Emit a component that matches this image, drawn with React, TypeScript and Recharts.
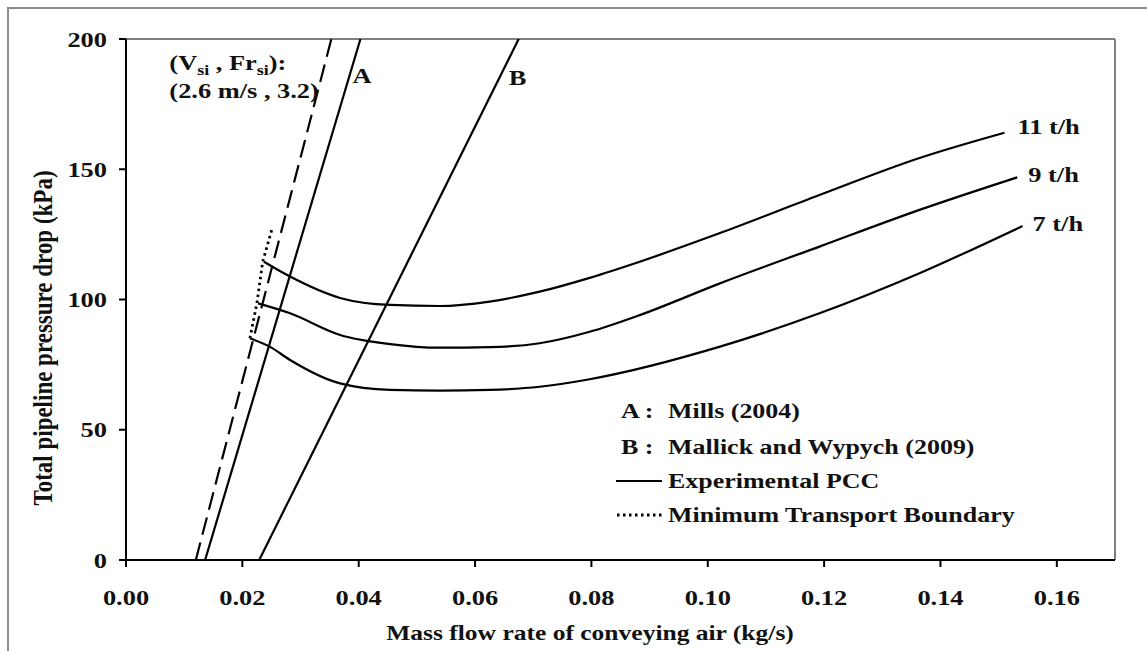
import { LineChart, Line, XAxis, YAxis, ReferenceLine, Legend, LabelList, Label } from 'recharts';

// air mass flow (kg/s) / total pressure drop (kPa)
const vsiX = [0.012, 0.0353];
const vsiP = [0, 200];

const millsX = [0.0136, 0.0403];
const millsP = [0, 200];

const mallickX = [0.0229, 0.0675];
const mallickP = [0, 200];

const boundaryX = [0.0213, 0.0225, 0.0235, 0.0251];
const boundaryP = [85.1, 98.6, 114.5, 127.1];

const pcc11X = [0.0237, 0.0282, 0.0368, 0.0454, 0.0539, 0.0625, 0.0711, 0.0797, 0.0883, 0.1021, 0.1192, 0.1364, 0.151];
const pcc11P = [114.5, 108.8, 100.6, 97.9, 97.5, 99.2, 103.0, 108.3, 114.5, 125.5, 140.1, 154.3, 164.0];

const pcc9X = [0.0227, 0.0282, 0.0368, 0.0454, 0.0539, 0.0625, 0.0711, 0.0797, 0.0883, 0.1021, 0.1192, 0.1364, 0.1532];
const pcc9P = [98.5, 94.7, 86.4, 82.9, 81.5, 81.7, 83.2, 87.6, 94.0, 106.2, 120.3, 134.4, 146.9];

const pcc7X = [0.0213, 0.0247, 0.0282, 0.0368, 0.0454, 0.0539, 0.0625, 0.0711, 0.0797, 0.1021, 0.1192, 0.1364, 0.1541];
const pcc7P = [85.1, 81.9, 76.8, 67.8, 65.3, 65.0, 65.3, 66.5, 69.4, 81.9, 94.7, 110.1, 128.2];

const xTicks = [0, 0.02, 0.04, 0.06, 0.08, 0.1, 0.12, 0.14, 0.16];
const yTicks = [0, 50, 100, 150, 200];

const FONT = '"Liberation Serif", "Times New Roman", serif';
const INK = '#111';

const toPts = (xs: number[], ps: number[]) => xs.map((x, i) => ({ x, p: ps[i] }));

function SText({ x, y, anchor = 'start', dy = '0.35em', size = 22, sx = 1.2, children }: any) {
  return (
    <text
      transform={`translate(${x},${y}) scale(${sx},1)`}
      textAnchor={anchor}
      dy={dy}
      fontFamily={FONT}
      fontWeight="bold"
      fontSize={size}
      fill={INK}
    >
      {children}
    </text>
  );
}

const XTick = ({ x, y, payload }: any) => (
  <SText x={x} y={y} anchor="middle" dy="0.71em">
    {payload.value.toFixed(2)}
  </SText>
);

const YTick = ({ x, y, payload }: any) => (
  <SText x={x} y={y} anchor="end">
    {payload.value}
  </SText>
);

// text placed next to the last point of a series
const endLabel = (text: string, dx: number, dy: number, last: number) => (props: any) => {
  if (props.index !== last) return <g />;
  return (
    <SText x={props.x + dx} y={props.y + dy}>
      {text}
    </SText>
  );
};

const vsiLabel = (props: any) => {
  if (props.index !== vsiX.length - 1) return <g />;
  const x = props.x - 162;
  const y = props.y;
  return (
    <g>
      <SText x={x} y={y + 23}>
        (V<tspan fontSize={15} dy={5}>si</tspan>
        <tspan dy={-5}> , Fr</tspan>
        <tspan fontSize={15} dy={5}>si</tspan>
        <tspan dy={-5}>):</tspan>
      </SText>
      <SText x={x} y={y + 51}>(2.6 m/s , 3.2)</SText>
    </g>
  );
};

const legendText: any = {
  display: 'inline-block',
  transform: 'scaleX(1.18)',
  transformOrigin: 'left center',
  whiteSpace: 'nowrap',
};

const LegendBox = () => {
  const row = (h: number, key: any, text: string) => (
    <div style={{ display: 'flex', alignItems: 'center', height: h }}>
      <div style={{ width: 52, display: 'flex', alignItems: 'center' }}>{key}</div>
      <span style={legendText}>{text}</span>
    </div>
  );
  return (
    <div style={{ fontFamily: FONT, fontWeight: 'bold', fontSize: 22, color: INK, lineHeight: 1 }}>
      {row(37, <span style={{ ...legendText, marginLeft: 5 }}>A :</span>, 'Mills (2004)')}
      {row(35, <span style={{ ...legendText, marginLeft: 5 }}>B :</span>, 'Mallick and Wypych (2009)')}
      {row(34, <svg width={46} height={6}><line x1={0} y1={3} x2={46} y2={3} stroke="#000" strokeWidth={2.2} /></svg>, 'Experimental PCC')}
      {row(34, <svg width={46} height={6}><line x1={1} y1={3} x2={46} y2={3} stroke="#000" strokeWidth={2.8} strokeDasharray="2.5 3.5" /></svg>, 'Minimum Transport Boundary')}
    </div>
  );
};

export default function App() {
  return (
    <div style={{ position: 'absolute', left: 0, top: 0, width: 1147, height: 651, background: '#fff', overflow: 'hidden' }}>
      <div style={{ position: 'absolute', left: 7, top: 7, width: 1200, height: 720, border: '2px solid #8c8c8c' }} />
      <div style={{ position: 'absolute', left: 0, top: 0 }}>
        <LineChart width={1147} height={651} margin={{ top: 39, right: 32, left: 0, bottom: 0 }}>
          <XAxis
            dataKey="x"
            type="number"
            domain={[0, 0.17]}
            ticks={xTicks}
            allowDataOverflow
            height={91}
            stroke="#000"
            strokeWidth={2}
            tickSize={7}
            tickMargin={22}
            tick={<XTick />}
          >
            <Label
              content={() => (
                <SText x={590} y={632} anchor="middle" sx={1.16}>
                  Mass flow rate of conveying air (kg/s)
                </SText>
              )}
            />
          </XAxis>
          <YAxis
            dataKey="p"
            type="number"
            domain={[0, 200]}
            ticks={yTicks}
            allowDataOverflow
            width={126}
            stroke="#000"
            strokeWidth={2}
            tickSize={7}
            tickMargin={12}
            tick={<YTick />}
          >
            <Label
              content={() => (
                <text
                  transform="translate(42,338) rotate(-90) scale(1,1.18)"
                  textAnchor="middle"
                  dy="0.35em"
                  fontFamily={FONT}
                  fontWeight="bold"
                  fontSize={23}
                  fill={INK}
                >
                  Total pipeline pressure drop (kPa)
                </text>
              )}
            />
          </YAxis>
          <ReferenceLine y={200} stroke="#7f7f7f" strokeWidth={2} />
          <ReferenceLine x={0.17} stroke="#7f7f7f" strokeWidth={2} />

          <Line data={toPts(vsiX, vsiP)} dataKey="p" type="linear" stroke="#000" strokeWidth={2.2} strokeDasharray="18 8" dot={false} isAnimationActive={false}>
            <LabelList content={vsiLabel} />
          </Line>
          <Line data={toPts(millsX, millsP)} dataKey="p" type="linear" stroke="#000" strokeWidth={2.2} dot={false} isAnimationActive={false}>
            <LabelList content={endLabel('A', -8, 36, millsX.length - 1)} />
          </Line>
          <Line data={toPts(mallickX, mallickP)} dataKey="p" type="linear" stroke="#000" strokeWidth={2.2} dot={false} isAnimationActive={false}>
            <LabelList content={endLabel('B', -10, 38, mallickX.length - 1)} />
          </Line>
          <Line data={toPts(boundaryX, boundaryP)} dataKey="p" type="linear" stroke="#000" strokeWidth={2.8} strokeDasharray="2.5 3.5" dot={false} isAnimationActive={false} />
          <Line data={toPts(pcc11X, pcc11P)} dataKey="p" type="monotone" stroke="#000" strokeWidth={2.2} dot={false} isAnimationActive={false}>
            <LabelList content={endLabel('11 t/h', 13, -6, pcc11X.length - 1)} />
          </Line>
          <Line data={toPts(pcc9X, pcc9P)} dataKey="p" type="monotone" stroke="#000" strokeWidth={2.2} dot={false} isAnimationActive={false}>
            <LabelList content={endLabel('9 t/h', 11, -3, pcc9X.length - 1)} />
          </Line>
          <Line data={toPts(pcc7X, pcc7P)} dataKey="p" type="monotone" stroke="#000" strokeWidth={2.2} dot={false} isAnimationActive={false}>
            <LabelList content={endLabel('7 t/h', 10, -3, pcc7X.length - 1)} />
          </Line>

          <Legend
            layout="horizontal"
            verticalAlign="middle"
            align="center"
            content={<LegendBox />}
            wrapperStyle={{ position: 'absolute', left: 616, top: 392, width: 470 }}
          />
        </LineChart>
      </div>
    </div>
  );
}
